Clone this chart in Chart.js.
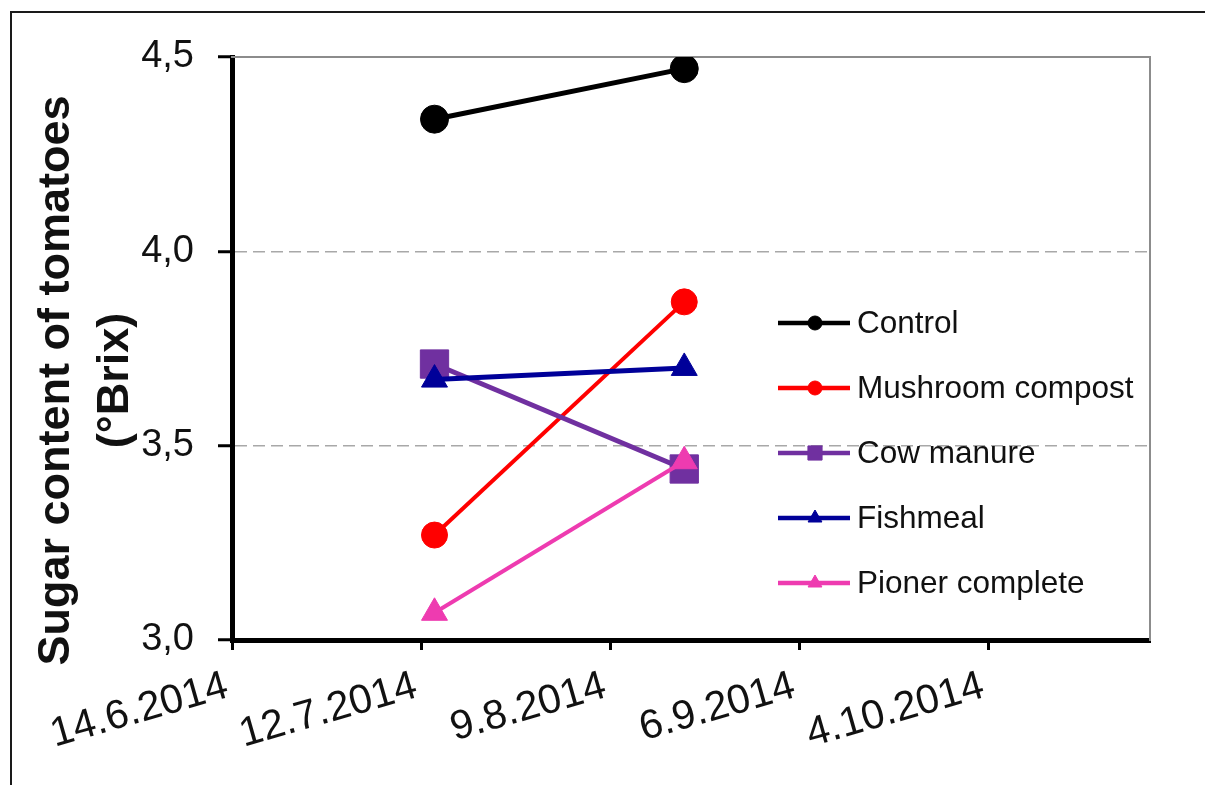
<!DOCTYPE html>
<html>
<head>
<meta charset="utf-8">
<script src="https://cdn.jsdelivr.net/npm/chart.js"></script>
<style>
  html, body { margin: 0; padding: 0; background: #fff; overflow: hidden; }
  #wrap { position: relative; width: 1205px; height: 785px; }
  #frame { position: absolute; left: 10px; top: 11px; width: 1300px; height: 900px; border: 2px solid #1a1a1a; }
  canvas { position: absolute; left: 0; top: 0; }
</style>
</head>
<body>
<div id="wrap">
  <div id="frame"></div>
  <canvas id="chart_brix" width="1205" height="785"></canvas>
</div>
<script>
// x values are days counted from 14.6.2014
const xTickLabels = ["14.6.2014", "12.7.2014", "9.8.2014", "6.9.2014", "4.10.2014"];
const yTickLabels = ["3,0", "3,5", "4,0", "4,5"];
const yTitle = ["Sugar content of tomatoes", "(°Brix)"];
const sampleDays = [30, 67];

const seriesNames = ["Control", "Mushroom compost", "Cow manure", "Fishmeal", "Pioner complete"];
const control = [4.34, 4.47];
const mushroomCompost = [3.27, 3.87];
const cowManure = [3.71, 3.44];
const fishmeal = [3.67, 3.70];
const pionerComplete = [3.07, 3.46];

const colors = ["#000000", "#ff0000", "#7030a0", "#000099", "#ee3bb0"];
const markers = ["circle", "circle", "rect", "triangle", "triangle"];
const markerSize = [14, 13, 20, 15, 15];
const legendMarkerSize = [7, 7, 10, 8, 8];
const lineWidths = [5, 4, 5, 5, 4];

const font = "'Liberation Sans', Arial, sans-serif";
const chartBrix = document.getElementById("chart_brix");

function toPoints(values) {
  return sampleDays.map((d, i) => ({ x: d, y: values[i] }));
}

const allSeries = [control, mushroomCompost, cowManure, fishmeal, pionerComplete];

// excel-like legend (line + marker) and two-line axis title
const extras = {
  id: "extras",
  afterDraw(chart) {
    const { ctx, chartArea: a } = chart;
    ctx.save();
    ctx.translate(a.left - 175, (a.top + a.bottom) / 2 + 32);
    ctx.rotate(-Math.PI / 2);
    ctx.font = "bold 45px " + font;
    ctx.fillStyle = "#111";
    ctx.textAlign = "center";
    ctx.textBaseline = "middle";
    ctx.fillText(yTitle[0], 0, 0);
    ctx.fillText(yTitle[1], 0, 59);
    ctx.restore();

    ctx.save();
    chart.data.datasets.forEach((ds, i) => {
      const x = a.left + 546;
      const y = a.top + 266 + i * 65;
      ctx.strokeStyle = ds.borderColor;
      ctx.lineWidth = 4.5;
      ctx.beginPath();
      ctx.moveTo(x, y);
      ctx.lineTo(x + 72, y);
      ctx.stroke();
      ctx.fillStyle = ds.borderColor;
      ctx.lineWidth = 1;
      Chart.helpers.drawPoint(ctx, { pointStyle: ds.pointStyle, radius: legendMarkerSize[i], borderWidth: 1, rotation: 0 }, x + 37, y);
      ctx.fillStyle = "#111";
      ctx.font = "31.5px " + font;
      ctx.textAlign = "left";
      ctx.textBaseline = "middle";
      ctx.fillText(ds.label, x + 79, y + 1);
    });
    ctx.restore();
  },
};

new Chart(chartBrix, {
  type: "line",
  data: {
    datasets: allSeries.map((values, i) => ({
      label: seriesNames[i],
      data: toPoints(values),
      borderColor: colors[i],
      backgroundColor: colors[i],
      borderWidth: lineWidths[i],
      pointStyle: markers[i],
      pointRadius: markerSize[i],
      pointBorderWidth: 1,
      order: allSeries.length - i,
      xAxisID: "x",
      yAxisID: "y",
    })),
  },
  plugins: [extras],
  options: {
    responsive: false,
    animation: false,
    layout: {
      padding: { left: 0, top: 57, right: 55, bottom: 0 },
    },
    plugins: {
      legend: { display: false },
      tooltip: { enabled: false },
    },
    scales: {
      x: {
        type: "linear",
        position: "bottom",
        min: 0,
        max: 136,
        afterFit: (s) => { s.height = 145; },
        ticks: {
          stepSize: 28,
          includeBounds: false,
          autoSkip: false,
          minRotation: 16,
          maxRotation: 16,
          padding: 12,
          labelOffset: -5,
          color: "#111",
          font: { family: font, size: 41 },
          callback: (v) => xTickLabels[Math.round(v / 28)],
        },
        grid: { drawOnChartArea: false, tickLength: 10, tickWidth: 3, tickColor: "#000" },
        border: { color: "#000", width: 5 },
      },
      y: {
        position: "left",
        min: 3,
        max: 4.5,
        afterFit: (s) => { s.width = 232; },
        ticks: {
          stepSize: 0.5,
          padding: 24,
          color: "#111",
          font: { family: font, size: 38 },
          callback: (v) => yTickLabels[Math.round((v - 3) / 0.5)],
        },
        grid: {
          color: (c) => (c.tick && (c.tick.value === 4.5 || c.tick.value === 3) ? "rgba(0,0,0,0)" : "#a8a8a8"),
          lineWidth: 1.5,
          tickLength: 14,
          tickWidth: 3,
          tickColor: "#000",
        },
        border: { color: "#000", width: 5, dash: [12, 6] },
      },
      xTop: {
        type: "linear",
        position: "top",
        afterFit: (s) => { s.height = 0; },
        ticks: { display: false },
        grid: { drawOnChartArea: false, drawTicks: false },
        border: { color: "#8c8c8c", width: 2 },
      },
      yRight: {
        type: "linear",
        position: "right",
        afterFit: (s) => { s.width = 0; },
        ticks: { display: false },
        grid: { drawOnChartArea: false, drawTicks: false },
        border: { color: "#8c8c8c", width: 2 },
      },
    },
  },
});
</script>
</body>
</html>
